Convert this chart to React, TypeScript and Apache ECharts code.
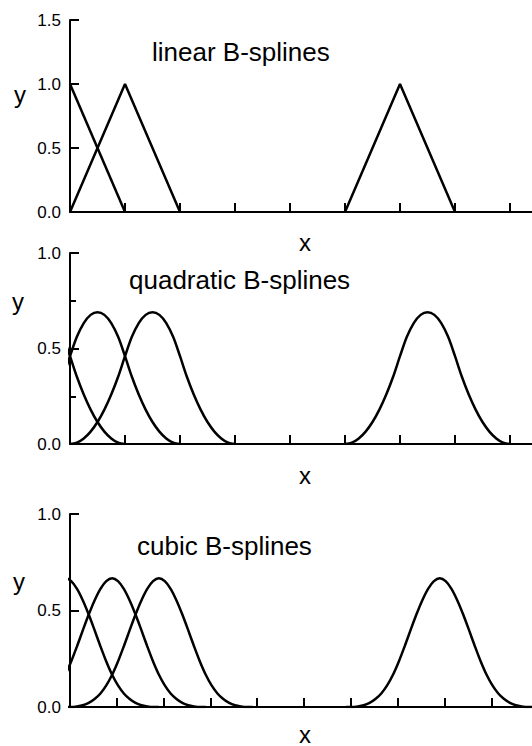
import React, { useEffect, useRef } from "react";
import * as echarts from "echarts";

// ---- data (x in knot units, y value) ----
const LINEAR_A: number[][] = [[0, 1], [1, 0]];
const LINEAR_B: number[][] = [[0, 0], [1, 1], [2, 0]];
const LINEAR_C: number[][] = [[5, 0], [6, 1], [7, 0]];

// quadratic bump: offset from its centre -> height
const QUAD_T = [-1.5, -1.375, -1.25, -1.125, -1, -0.875, -0.75, -0.625, -0.5, -0.375, -0.25, -0.125, 0,
  0.125, 0.25, 0.375, 0.5, 0.625, 0.75, 0.875, 1, 1.125, 1.25, 1.375, 1.5];
const QUAD_Y = [0, 0.007, 0.029, 0.065, 0.115, 0.18, 0.259, 0.352, 0.46, 0.561, 0.633, 0.676, 0.69,
  0.676, 0.633, 0.561, 0.46, 0.352, 0.259, 0.18, 0.115, 0.065, 0.029, 0.007, 0];
const QUAD_CENTERS = [-0.5, 0.5, 1.5, 6.5];

// cubic bump
const CUBIC_T = [-2, -1.875, -1.75, -1.625, -1.5, -1.375, -1.25, -1.125, -1, -0.875, -0.75, -0.625, -0.5,
  -0.375, -0.25, -0.125, 0, 0.125, 0.25, 0.375, 0.5, 0.625, 0.75, 0.875, 1, 1.125, 1.25, 1.375, 1.5,
  1.625, 1.75, 1.875, 2];
const CUBIC_Y = [0, 0, 0.003, 0.009, 0.021, 0.041, 0.07, 0.112, 0.167, 0.236, 0.315, 0.398, 0.479,
  0.552, 0.612, 0.652, 0.667, 0.652, 0.612, 0.552, 0.479, 0.398, 0.315, 0.236, 0.167, 0.112, 0.07,
  0.041, 0.021, 0.009, 0.003, 0, 0];
const CUBIC_CENTERS = [-0.1, 0.9, 1.9, 7.9];

const TITLES = ["linear B-splines", "quadratic B-splines", "cubic B-splines"];
const X_TICKS_12 = [0, 1, 2, 3, 4, 5, 6, 7, 8];
const X_TICKS_3 = [0, 1, 2, 3, 4, 5, 6, 7, 8, 9];

const FONT = '"Liberation Sans", Arial, Helvetica, sans-serif';
const BLACK = "#000";

const bump = (t: number[], y: number[], c: number) => t.map((v, i) => [c + v, y[i]]);

export default function App() {
  const ref = useRef<HTMLDivElement>(null);
  useEffect(() => {
    document.body.style.margin = "0";
    const chart = echarts.init(ref.current!, undefined, { renderer: "svg" });

    const xAxis = (gi: number, max: number, ticks: number[]) => ({
      type: "value",
      gridIndex: gi,
      min: 0,
      max,
      interval: 1,
      axisLine: { show: true, lineStyle: { color: BLACK, width: 2 } },
      axisTick: { show: true, inside: true, length: 9, customValues: ticks, lineStyle: { color: BLACK, width: 2 } },
      axisLabel: { show: false },
      splitLine: { show: false },
    });
    const yAxis = (gi: number, max: number, minor: boolean) => ({
      type: "value",
      gridIndex: gi,
      min: 0,
      max,
      interval: 0.5,
      axisLine: { show: true, lineStyle: { color: BLACK, width: 2 } },
      axisTick: { show: true, inside: true, length: 9, lineStyle: { color: BLACK, width: 2 } },
      minorTick: { show: minor, splitNumber: 2, length: 6, lineStyle: { color: BLACK, width: 2 } },
      axisLabel: {
        show: true,
        margin: 9,
        color: BLACK,
        fontFamily: FONT,
        fontSize: 17,
        formatter: (v: number) => v.toFixed(1),
      },
      splitLine: { show: false },
    });
    const line = (data: number[][], gi: number, smooth: boolean) => ({
      type: "line",
      xAxisIndex: gi,
      yAxisIndex: gi,
      data,
      smooth: smooth ? 0.3 : false,
      symbol: "none",
      lineStyle: { color: BLACK, width: 2.5 },
      silent: true,
    });
    const txt = (text: string, x: number, y: number, size: number, align: string, va = "middle") => ({
      type: "text",
      x,
      y,
      style: {
        text, fill: BLACK, font: `${size}px ${FONT}`, textAlign: align, textVerticalAlign: va,
        lineHeight: size,
      },
    });

    chart.setOption({
      animation: false,
      backgroundColor: "#fff",
      grid: [
        { left: 70, top: 20, right: 0, height: 192 },
        { left: 70, top: 253, right: 0, height: 191 },
        { left: 70, top: 514, right: 0, height: 193 },
      ],
      xAxis: [xAxis(0, 8.4, X_TICKS_12), xAxis(1, 8.4, X_TICKS_12), xAxis(2, 9.87, X_TICKS_3)],
      yAxis: [yAxis(0, 1.5, false), yAxis(1, 1.0, true), yAxis(2, 1.0, false)],
      series: [
        line(LINEAR_A, 0, false),
        line(LINEAR_B, 0, false),
        line(LINEAR_C, 0, false),
        ...QUAD_CENTERS.map((c) => line(bump(QUAD_T, QUAD_Y, c), 1, true)),
        ...CUBIC_CENTERS.map((c) => line(bump(CUBIC_T, CUBIC_Y, c), 2, true)),
      ],
      graphic: [
        txt(TITLES[0], 152, 52, 26, "left"),
        txt(TITLES[1], 129, 280, 26, "left"),
        txt(TITLES[2], 137, 546, 26, "left"),
        txt("y", 20, 94, 24, "center"),
        txt("y", 18, 301, 24, "center"),
        txt("y", 19, 581, 24, "center"),
        txt("x", 305, 242, 24, "center"),
        txt("x", 305, 475, 24, "center"),
        txt("x", 305, 746, 24, "center", "bottom"),
      ],
    });
    return () => chart.dispose();
  }, []);
  return <div ref={ref} style={{ width: 532, height: 746 }} />;
}
